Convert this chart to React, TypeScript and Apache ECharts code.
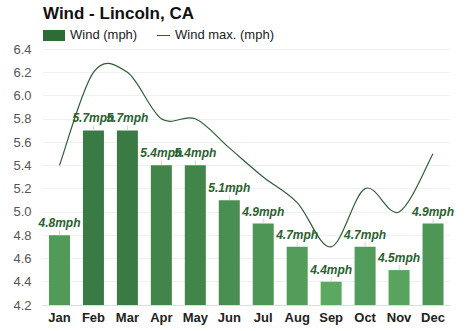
import React, { useEffect, useRef } from "react";
import * as echarts from "echarts";

const months = ["Jan", "Feb", "Mar", "Apr", "May", "Jun", "Jul", "Aug", "Sep", "Oct", "Nov", "Dec"];
const windAvg = [4.8, 5.7, 5.7, 5.4, 5.4, 5.1, 4.9, 4.7, 4.4, 4.7, 4.5, 4.9];
const windMax = [5.4, 6.2, 6.2, 5.8, 5.8, 5.55, 5.3, 5.08, 4.7, 5.2, 5.0, 5.5];
const yMin = 4.2;
const yMax = 6.4;
const yStep = 0.2;

const FONT = "'Liberation Sans', Arial, sans-serif";

function barColor(v: number): string {
  const lo = [0x5b, 0xa8, 0x60];
  const hi = [0x3a, 0x7a, 0x44];
  const t = Math.max(0, Math.min(1, (v - 4.4) / (5.7 - 4.4)));
  const c = lo.map((l, i) => Math.round(l + (hi[i] - l) * t));
  return `rgb(${c[0]},${c[1]},${c[2]})`;
}

function catmullPath(pts: number[][]): string {
  let d = `M${pts[0][0]},${pts[0][1]}`;
  for (let i = 0; i < pts.length - 1; i++) {
    const p0 = pts[i - 1] || pts[i];
    const p1 = pts[i];
    const p2 = pts[i + 1];
    const p3 = pts[i + 2] || p2;
    const c1x = p1[0] + (p2[0] - p0[0]) / 6;
    const c1y = p1[1] + (p2[1] - p0[1]) / 6;
    const c2x = p2[0] - (p3[0] - p1[0]) / 6;
    const c2y = p2[1] - (p3[1] - p1[1]) / 6;
    d += ` C${c1x},${c1y} ${c2x},${c2y} ${p2[0]},${p2[1]}`;
  }
  return d;
}

export default function App() {
  const ref = useRef<HTMLDivElement>(null);
  useEffect(() => {
    if (!ref.current) return;
    const chart = echarts.init(ref.current, undefined, { renderer: "svg" });
    chart.setOption({
      animation: false,
      backgroundColor: "#fff",
      textStyle: { fontFamily: FONT },
      grid: { left: 42.5, right: 24, top: 49, bottom: 26 },
      graphic: [
        {
          type: "text",
          left: 43,
          top: 5,
          style: { text: "Wind - Lincoln, CA", font: `bold 17px ${FONT}`, fill: "#111" },
        },
        { type: "rect", shape: { x: 43, y: 30, width: 22, height: 11 }, style: { fill: "#2e6b35" } },
        {
          type: "text",
          left: 70,
          top: 28,
          style: { text: "Wind (mph)", font: `13px ${FONT}`, fill: "#222" },
        },
        { type: "line", shape: { x1: 157, y1: 35.5, x2: 170, y2: 35.5 }, style: { stroke: "#2e5e35", lineWidth: 1 } },
        {
          type: "text",
          left: 175,
          top: 28,
          style: { text: "Wind max. (mph)", font: `13px ${FONT}`, fill: "#222" },
        },
      ],
      xAxis: {
        type: "category",
        data: months,
        axisTick: { show: false },
        axisLine: { lineStyle: { color: "#ddd" } },
        axisLabel: { interval: 0, color: "#222", fontWeight: "bold", fontSize: 13, margin: 6, fontFamily: FONT },
      },
      yAxis: {
        type: "value",
        min: yMin,
        max: yMax,
        interval: yStep,
        axisLabel: {
          color: "#555",
          fontSize: 13,
          margin: 11,
          fontFamily: FONT,
          formatter: (v: number) => v.toFixed(1),
        },
        splitLine: { lineStyle: { color: "#f0f0f0" } },
        axisLine: { show: false },
        axisTick: { show: false },
      },
      series: [
        {
          name: "Wind (mph)",
          type: "bar",
          barWidth: 21,
          data: windAvg.map((v) => ({ value: v, itemStyle: { color: barColor(v) } })),
          label: {
            show: true,
            position: "top",
            distance: 6,
            formatter: (p: any) => `${p.value}mph`,
            color: "#2a6130",
            fontWeight: "bold",
            fontStyle: "italic",
            fontSize: 12,
            fontFamily: FONT,
          },
          labelLayout: { hideOverlap: false },
          z: 2,
        },
        {
          name: "tick",
          type: "scatter",
          data: windAvg.map((v, i) => [i, v]),
          symbol: "rect",
          symbolSize: [1, 5],
          symbolOffset: [0, -2.5],
          itemStyle: { color: "#ccc" },
          silent: true,
          z: 3,
        },
        {
          name: "Wind max. (mph)",
          type: "custom",
          data: windMax.map((v, i) => [i, v]),
          silent: true,
          z: 4,
          renderItem: (params: any, api: any) => {
            if (params.dataIndex !== 0) return null;
            const pts = windMax.map((v, i) => api.coord([i, v]));
            return {
              type: "path",
              shape: { pathData: catmullPath(pts) },
              style: { fill: "none", stroke: "#2e5e35", lineWidth: 1.2 },
            };
          },
        },
      ],
    });
    return () => chart.dispose();
  }, []);
  return (
    <div
      ref={ref}
      style={{ position: "absolute", left: 0, top: 0, width: 474, height: 331 }}
    />
  );
}
